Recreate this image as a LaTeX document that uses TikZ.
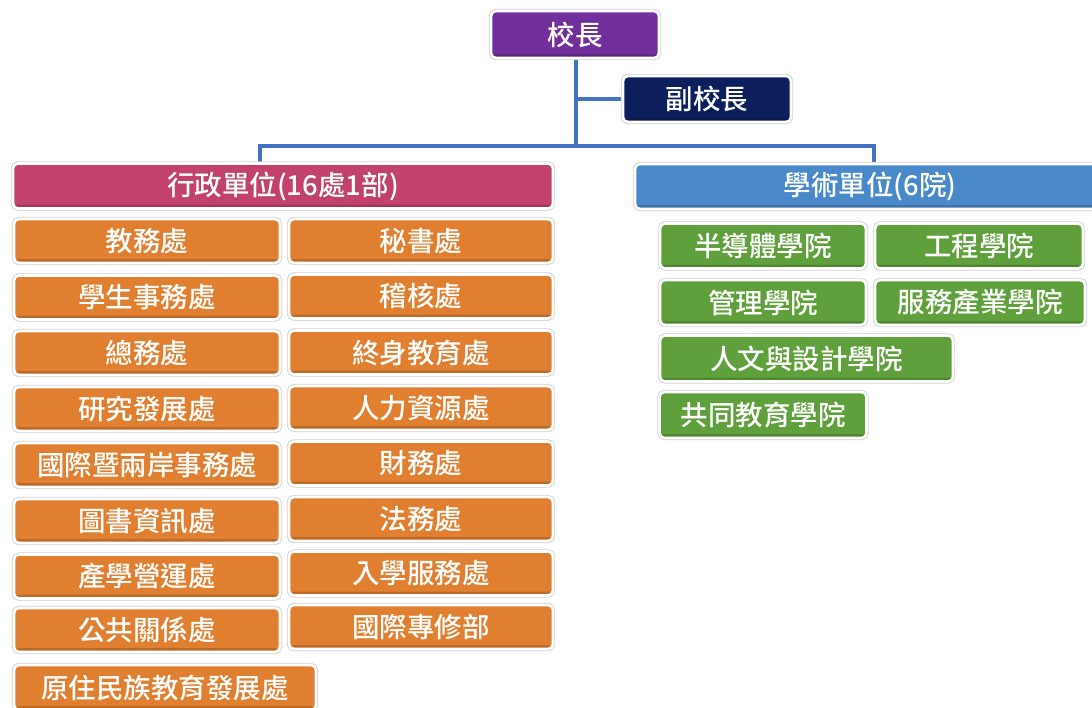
\documentclass[tikz,border=0pt]{standalone}
\usepackage{fontspec}
\newfontfamily\cjk{Noto Sans CJK TC Medium}
\usetikzlibrary{shadows}
\definecolor{cpurple}{HTML}{702F9A}
\definecolor{cnavy}{HTML}{0C1E5B}
\definecolor{cpink}{HTML}{C3426B}
\definecolor{cblue}{HTML}{4A89C9}
\definecolor{corange}{HTML}{E07F30}
\definecolor{cgreen}{HTML}{5FA03C}
\definecolor{cline}{HTML}{4472C4}
\pgfdeclarelayer{bg}
\pgfsetlayers{bg,main}
\tikzset{
  box/.style={rounded corners=5pt, draw=white, line width=2.6pt, text=white,
    font=\cjk\fontsize{27.5}{27.5}\selectfont, inner sep=0pt,
    drop shadow={shadow xshift=0.4pt,shadow yshift=-1.8pt,opacity=0.22},
    preaction={draw=black!18, line width=4.4pt},
    path picture={\fill[black,opacity=0.16]
      ([yshift=4pt]path picture bounding box.south west) rectangle
      (path picture bounding box.south east);}},
  ceobox/.style={box, fill=cpurple, minimum width=168pt, minimum height=47pt},
  vpbox/.style={box, fill=cnavy, minimum width=168pt, minimum height=46pt},
  adminbox/.style={box, fill=cpink, minimum height=45pt},
  acadbox/.style={box, fill=cblue, minimum height=45pt},
  obox/.style={box, fill=corange, minimum height=44pt},
  gbox/.style={box, fill=cgreen, minimum height=45pt},
  conn/.style={draw=cline, line width=3.3pt},
}
\begin{document}
\begin{tikzpicture}[x=1pt,y=-1pt]
\useasboundingbox (0,0) rectangle (1092,707);
\node[ceobox] (ceo) at (575,34.5) {校長};
\node[vpbox] (vp) at (707,99) {副校長};
\node[adminbox, minimum width=540pt] (admin) at (283,186) {行政單位(16處1部)};
\node[acadbox, minimum width=480pt] (acad) at (875,186.5) {\hspace*{-10pt}學術單位(6院)};
% left column
\node[obox, minimum width=266pt] (l1) at (147,241) {教務處};
\node[obox, minimum width=266pt] (l2) at (147,297.5) {學生事務處};
\node[obox, minimum width=266pt] (l3) at (147,353) {總務處};
\node[obox, minimum width=266pt] (l4) at (147,409) {研究發展處};
\node[obox, minimum width=266pt] (l5) at (147,465) {國際暨兩岸事務處};
\node[obox, minimum width=266pt] (l6) at (147,521) {圖書資訊處};
\node[obox, minimum width=266pt] (l7) at (147,576.5) {產學營運處};
\node[obox, minimum width=266pt] (l8) at (147,630) {公共關係處};
\node[obox, minimum width=302pt, minimum height=45pt] (l9) at (165,687.5) {原住民族教育發展處};
% right column
\node[obox, minimum width=264pt] (r1) at (421,241) {秘書處};
\node[obox, minimum width=264pt] (r2) at (421,296.5) {稽核處};
\node[obox, minimum width=264pt] (r3) at (421,352.5) {終身教育處};
\node[obox, minimum width=264pt] (r4) at (421,408) {人力資源處};
\node[obox, minimum width=264pt] (r5) at (421,463.5) {財務處};
\node[obox, minimum width=264pt] (r6) at (421,519) {法務處};
\node[obox, minimum width=264pt] (r7) at (421,573.5) {入學服務處};
\node[obox, minimum width=264pt] (r8) at (421,627) {國際專修部};
% colleges
\node[gbox, minimum width=206pt] (g1) at (763,246) {半導體學院};
\node[gbox, minimum width=208pt] (g2) at (979,246) {工程學院};
\node[gbox, minimum width=206pt] (g3) at (763,302.5) {管理學院};
\node[gbox, minimum width=210pt] (g4) at (980,302.5) {服務產業學院};
\node[gbox, minimum width=293pt, minimum height=46pt] (g5) at (806.5,358.5) {人文與設計學院};
\node[gbox, minimum width=207pt, minimum height=46pt] (g6) at (763,415) {共同教育學院};
% connectors
\coordinate (j) at (576,146);
\coordinate (la) at (260,146);
\coordinate (ra) at (874,146);
\begin{pgfonlayer}{bg}
\draw[conn] (ceo.south -| j) -- (j);
\draw[conn] (vp.west) -- (vp.west -| j);
\draw[conn] (la |- admin.north) -- (la) -- (ra) -- (ra |- acad.north);
\end{pgfonlayer}
\end{tikzpicture}
\end{document}
